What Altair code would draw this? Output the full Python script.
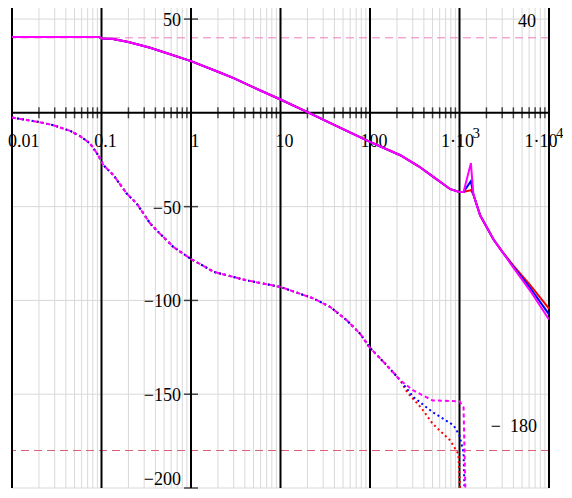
import altair as alt
import pandas as pd

# ---------------- data ----------------
# magnitude (dB), one value per frequency for each of the three curves
mag_f = [0.01, 0.02, 0.05, 0.095, 0.1, 0.13, 0.2, 0.35, 0.5, 1, 2, 3, 5, 10, 20, 50,
         100, 218, 350, 510, 790, 1000, 1110, 1340, 1430, 1700, 2400, 3000, 4000, 6200, 10000]
mag_red = [40.4, 40.4, 40.4, 40.4, 39.7, 39.5, 37.8, 34.7, 32.3, 27.6, 21.9, 18.5, 13.6, 7.1, 0.4, -8.7,
           -15.5, -22.6, -28.5, -34.1, -40.7, -42.2, -42.2, -41.2, -43.5, -54.6, -67.5, -74.0, -81.5, -92.0, -104.4]
mag_blue = [40.4, 40.4, 40.4, 40.4, 39.7, 39.5, 37.8, 34.7, 32.3, 27.6, 21.9, 18.5, 13.6, 7.1, 0.4, -8.7,
            -15.5, -22.6, -28.5, -34.1, -40.7, -42.2, -42.2, -36.4, -43.5, -54.6, -67.5, -74.0, -82.0, -93.5, -107.4]
mag_magenta = [40.4, 40.4, 40.4, 40.4, 39.7, 39.5, 37.8, 34.7, 32.3, 27.6, 21.9, 18.5, 13.6, 7.1, 0.4, -8.7,
               -15.5, -22.6, -28.5, -34.1, -40.7, -42.2, -42.2, -26.8, -43.5, -54.6, -67.5, -74.0, -82.5, -95.0, -110.2]

# phase (deg): common part, then each curve's own tail
ph_common_f = [0.01, 0.0195, 0.029, 0.0446, 0.0576, 0.0745, 0.092, 0.105, 0.136, 0.191, 0.247, 0.35,
               0.45, 0.636, 1, 1.8, 4.2, 10, 23.5, 36, 55, 77.5, 100, 154, 218]
ph_common_v = [-2.5, -4.8, -6.6, -9.6, -12.4, -16.3, -22.6, -27.9, -33.2, -43.0, -48.3, -59.0,
               -64.4, -71.5, -77.9, -84.8, -89.3, -92.8, -99.0, -103.5, -110.6, -117.7, -125.3, -134.6, -142.6]
ph_red_f = [260, 380, 500, 790, 970, 1060, 1340]
ph_red_v = [-148.9, -157.7, -165.7, -174.7, -181.8, -220.0, -345.0]
ph_blue_f = [305, 500, 860, 1000, 1110, 1340]
ph_blue_v = [-151.5, -159.5, -166.6, -172.0, -181.0, -340.0]
ph_magenta_f = [305, 500, 1000, 1110, 1340]
ph_magenta_v = [-148.0, -153.3, -153.8, -157.0, -335.0]

# axes, grid and reference levels
decades = [0.01, 0.1, 1, 10, 100, 1000, 10000]
minor_f = [m * d for d in [0.01, 0.1, 1, 10, 100, 1000] for m in [2, 3, 4, 5, 6, 7, 8, 9]]
y_ticks = [50, -50, -100, -150]
y_labels = ["50", "\u221250", "\u2212100", "\u2212150"]
y_bottom = [-200]
y_bottom_label = ["\u2212200"]
x_first_val = [0.01]
x_first_label = ["0.01"]
x_dec_vals = [0.1, 1, 10, 100]
x_dec_labels = ["0.1", "1", "10", "100"]
x_pow3_val = [1000]
x_pow4_val = [10000]
x_pow_label = ["1\u00b710"]
x_exp3 = ["3"]
x_exp4 = ["4"]
ref_levels = [40, -180]
ref_labels = ["40", "\u2212\u2002180"]

# ---------------- chart ----------------
FONT = "Liberation Serif, Times New Roman, serif"
xs = alt.Scale(type="log", domain=[0.01, 10000])
ys = alt.Scale(domain=[-200, 55.9])


def X(field):
    return alt.X(field, type="quantitative", scale=xs, axis=None)


def Y(field):
    return alt.Y(field, type="quantitative", scale=ys, axis=None)


def series_df(f, v):
    return pd.DataFrame({"f": f, "v": v})


def text_layer(xv, yv, labels, **kw):
    df = pd.DataFrame({"xv": xv, "yv": yv, "t": labels})
    style = dict(font=FONT, fontSize=18, color="black", baseline="alphabetic")
    style.update(kw)
    return alt.Chart(df).mark_text(**style).encode(x=X("xv"), y=Y("yv"), text="t:N")


grid_minor = alt.Chart(pd.DataFrame({"f": minor_f})).mark_rule(
    color="#d9d9d9", strokeWidth=1).encode(x=X("f"))
grid_h = alt.Chart(pd.DataFrame({"v": y_ticks + y_bottom})).mark_rule(
    color="#d9d9d9", strokeWidth=1).encode(y=Y("v"))
ref40 = alt.Chart(pd.DataFrame({"v": ref_levels[:1]})).mark_rule(
    color="#f07cc0", strokeWidth=1, strokeDash=[8, 5]).encode(y=Y("v"))
ref180 = alt.Chart(pd.DataFrame({"v": ref_levels[1:]})).mark_rule(
    color="#d8607a", strokeWidth=1, strokeDash=[8, 5]).encode(y=Y("v"))
major = alt.Chart(pd.DataFrame({"f": decades})).mark_rule(
    color="black", strokeWidth=2).encode(x=X("f"))
xaxis = alt.Chart(pd.DataFrame({"v": [0]})).mark_rule(
    color="black", strokeWidth=2).encode(y=Y("v"))
xticks = alt.Chart(pd.DataFrame({"f": minor_f})).transform_calculate(y0="0").mark_tick(
    orient="vertical", size=11, thickness=1.5, color="black").encode(x=X("f"), y=Y("y0"))
yticks = alt.Chart(pd.DataFrame({"v": y_ticks + y_bottom})).transform_calculate(x1="1").mark_tick(
    orient="horizontal", size=14, thickness=1.5, color="black").encode(x=X("x1"), y=Y("v"))

ylab = text_layer([1] * len(y_ticks), y_ticks, y_labels, align="right", dx=-10, dy=7)
ylab_bottom = text_layer([1], y_bottom, y_bottom_label, align="right", dx=-10, dy=-3)
xlab_first = text_layer(x_first_val, [0], x_first_label, align="left", dx=-4, dy=34)
xlab_dec = text_layer(x_dec_vals, [0] * len(x_dec_vals), x_dec_labels, align="center", dx=4, dy=34)
xlab_p3 = text_layer(x_pow3_val, [0], x_pow_label, align="center", dx=-2, dy=34)
xlab_e3 = text_layer(x_pow3_val, [0], x_exp3, align="left", dx=13, dy=25, fontSize=15)
xlab_p4 = text_layer(x_pow4_val, [0], x_pow_label, align="center", dx=-8, dy=34)
xlab_e4 = text_layer(x_pow4_val, [0], x_exp4, align="left", dx=7, dy=25, fontSize=15)
reflab40 = text_layer([10000], ref_levels[:1], ref_labels[:1], align="right", dx=-13, dy=-11)
reflab180 = text_layer([10000], ref_levels[1:], ref_labels[1:], align="right", dx=-12, dy=-18)

RED, BLUE, MAG = "#ff0000", "#0000ff", "#ff00ff"


def phase_line(f_tail, v_tail, color, dash):
    df = series_df(ph_common_f + f_tail, ph_common_v + v_tail)
    return alt.Chart(df).mark_line(color=color, strokeWidth=2, strokeDash=dash, clip=True).encode(
        x=X("f"), y=Y("v"), order="f:Q")


def mag_line(vals, color):
    return alt.Chart(series_df(mag_f, vals)).mark_line(color=color, strokeWidth=2, clip=True).encode(
        x=X("f"), y=Y("v"), order="f:Q")


chart = alt.layer(
    grid_minor, grid_h, ref40, ref180, major, xaxis, xticks, yticks,
    ylab, ylab_bottom, xlab_first, xlab_dec, xlab_p3, xlab_e3, xlab_p4, xlab_e4,
    reflab40, reflab180,
    phase_line(ph_red_f, ph_red_v, RED, [2, 3]),
    phase_line(ph_blue_f, ph_blue_v, BLUE, [2, 3]),
    phase_line(ph_magenta_f, ph_magenta_v, MAG, [4, 3]),
    mag_line(mag_red, RED),
    mag_line(mag_blue, BLUE),
    mag_line(mag_magenta, MAG),
).properties(
    width=537, height=480,
    padding={"left": 4, "top": 0, "right": 14, "bottom": 2},
    autosize=alt.AutoSizeParams(type="none"),
).configure_view(stroke=None)

chart.save("out.html", embed_options={"renderer": "svg", "actions": False})
